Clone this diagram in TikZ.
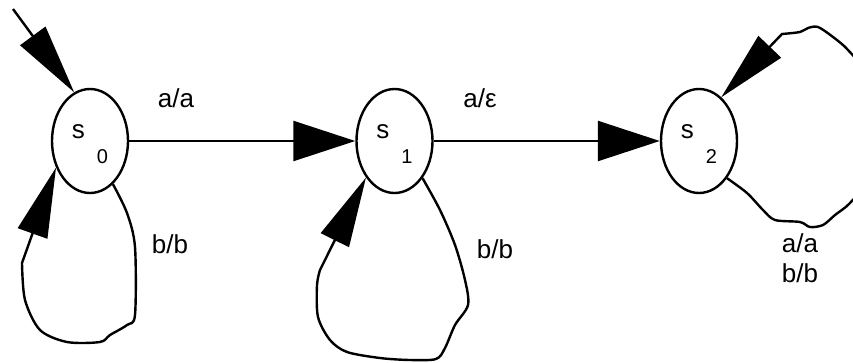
\documentclass[tikz,border=0pt]{standalone}
\usepackage{fontspec}
\setmainfont{Liberation Sans}
\usetikzlibrary{arrows.meta,shapes.geometric}

\tikzset{
  state/.style={draw,ellipse,line width=2.4pt,minimum width=76pt,minimum height=104pt,
    inner sep=0pt,text height=19pt,text depth=25pt,font=\fontsize{26}{30}\selectfont},
  lbl/.style={font=\fontsize{26}{30}\selectfont,inner sep=0pt},
  trans/.style={line width=2.4pt,-{Triangle[length=62pt,width=40pt]}},
  looparrow/.style={line width=2.4pt,-{Triangle[length=70pt,width=31pt]}}
}

\begin{document}
\begin{tikzpicture}[x=1pt,y=-1pt]
\useasboundingbox (0,0) rectangle (853,362);

% states s0, s1, s2
\foreach \i/\x in {0/90,1/394.5,2/699}
  \node[state] (s\i) at (\x,141) {s\hspace{12pt}\raisebox{-25pt}{\fontsize{20}{20}\selectfont\i}\hspace{13pt}};

% start arrow
\coordinate (init) at (13,9);
\draw[looparrow] (init) -- (s0.108);

% transitions
\draw[trans] (s0) -- (s1);
\draw[trans] (s1) -- (s2);
\node[lbl,anchor=base] (t01) at (176,107) {a/a};
\node[lbl,anchor=base] (t12) at (480,107) {a/ε};

% self loops (drawn by hand)
\draw[looparrow] plot[smooth] coordinates {(s0.298) (127,213) (135,247) (135,315) (127,325)
  (110,335) (100,342) (67,342) (40,330) (25,300) (22,263)} -- (s0.218);
\node[lbl,anchor=base] (t00) at (170,253) {b/b};

\draw[looparrow] plot[smooth] coordinates {(s1.307) (440,210) (455,245) (465,280) (468,305)
  (455,325) (445,348) (436,359) (410,360) (380,358) (347,352) (330,340) (318,317)
  (317,285) (320,270)} -- (s1.232);
\node[lbl,anchor=base] (t11) at (495,258) {b/b};

\draw[looparrow] plot[smooth] coordinates {(s2.307) (747,193) (763,210) (775,220) (800,222)
  (810,227) (823,225) (835,215) (850,203) (866,180) (872,130) (866,75) (848,50)
  (833,37) (818,27) (808,28) (800,32) (782,34)} -- (s2.63);
\node[lbl,align=center] (t22) at (800,258.5) {a/a\\b/b};
\end{tikzpicture}
\end{document}
